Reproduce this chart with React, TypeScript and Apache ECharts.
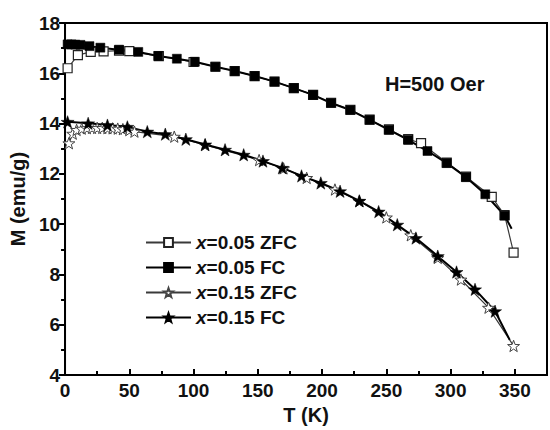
import React, { useEffect, useRef } from "react";
import * as echarts from "echarts";

// Temperature sweeps (K) and magnetization (emu/g)
const ZFC05_T = [2, 10, 20, 30, 42, 50, 73, 100, 117, 132, 147.5, 163, 178, 193, 207, 222, 237, 252, 267, 277, 297, 312, 332, 342, 349];
const ZFC05_M = [16.2, 16.72, 16.85, 16.87, 16.9, 16.88, 16.68, 16.45, 16.26, 16.09, 15.89, 15.67, 15.41, 15.14, 14.83, 14.55, 14.16, 13.77, 13.38, 13.22, 12.45, 11.89, 11.09, 10.36, 8.87];

const FC05_T = [2, 5, 8, 12, 19, 27.5, 42, 57, 72.5, 87, 101, 117, 132, 147.5, 163, 178, 193, 207, 222, 237, 252, 267, 282, 297, 312, 327, 342, 347.5];
const FC05_M = [17.15, 17.15, 17.14, 17.13, 17.08, 17.02, 16.94, 16.85, 16.69, 16.58, 16.46, 16.26, 16.09, 15.89, 15.67, 15.41, 15.14, 14.82, 14.54, 14.15, 13.75, 13.35, 12.91, 12.43, 11.87, 11.19, 10.34, 9.82];

const ZFC15_T = [3, 6, 9, 13, 17, 21, 25, 29, 33, 37, 41, 45, 50, 54, 85, 109, 151, 170, 188, 210, 229, 250, 269, 290, 308, 329.5, 349];
const ZFC15_M = [13.22, 13.6, 13.75, 13.8, 13.82, 13.83, 13.83, 13.83, 13.82, 13.81, 13.8, 13.78, 13.74, 13.68, 13.48, 13.15, 12.55, 12.22, 11.84, 11.38, 10.92, 10.27, 9.56, 8.66, 7.8, 6.68, 5.16];

const FC15_T = [2, 18, 33, 48.5, 64, 78, 94, 109, 124.5, 139, 154, 169, 184, 199, 214, 229, 244, 258.5, 273, 290, 304.6, 319, 334.6, 346];
const FC15_M = [14.07, 14.01, 13.94, 13.87, 13.68, 13.58, 13.38, 13.17, 12.96, 12.76, 12.51, 12.24, 11.92, 11.64, 11.31, 10.93, 10.5, 9.98, 9.45, 8.73, 8.1, 7.41, 6.54, 5.4];

const SERIES_NAMES = ["x=0.05 ZFC", "x=0.05 FC", "x=0.15 ZFC", "x=0.15 FC"];
const FIELD_LABEL = "H=500 Oer";

const FONT = "'Liberation Sans', Arial, Helvetica, sans-serif";
const STAR =
  "path://M0,-10L2.35,-3.24L9.51,-3.09L3.8,1.24L5.88,8.09L0,4L-5.88,8.09L-3.8,1.24L-9.51,-3.09L-2.35,-3.24Z";

// Pairs T and M; points after the last plotted symbol of an FC sweep carry no marker.
function pairs(t: number[], m: number[], lastBare: boolean) {
  return t.map((v, i) =>
    lastBare && i === t.length - 1
      ? { value: [v, m[i]], symbol: "none" }
      : { value: [v, m[i]] }
  );
}

export default function App() {
  const ref = useRef<HTMLDivElement>(null);

  useEffect(() => {
    if (!ref.current) return;
    const chart = echarts.init(ref.current, null, { renderer: "svg" });

    const openLine = { color: "#3a3a3a", width: 1.2 };
    const solidLine = { color: "#000", width: 2 };

    chart.setOption({
      animation: false,
      backgroundColor: "#fff",
      textStyle: { fontFamily: FONT },
      grid: { left: 65, top: 23, width: 487, height: 357, show: true, borderColor: "#000", borderWidth: 2 },
      xAxis: {
        type: "value",
        min: 0,
        max: 375,
        interval: 50,
        name: "T (K)",
        nameLocation: "middle",
        nameGap: 28,
        nameTextStyle: { fontSize: 20, fontWeight: "bold", color: "#111", fontFamily: FONT },
        axisLine: { lineStyle: { color: "#000", width: 2 } },
        axisTick: { inside: true, length: 6, lineStyle: { width: 2, color: "#000" } },
        minorTick: { show: true, splitNumber: 2, length: 4, lineStyle: { width: 2, color: "#000" } },
        axisLabel: {
          fontSize: 19, fontWeight: "bold", color: "#111", margin: 6, fontFamily: FONT,
          formatter: (v: number) => (v > 350 ? "" : String(v)),
        },
        splitLine: { show: false },
      },
      yAxis: {
        type: "value",
        min: 4,
        max: 18,
        interval: 2,
        name: "M (emu/g)",
        nameLocation: "middle",
        nameGap: 37,
        nameTextStyle: { fontSize: 20, fontWeight: "bold", color: "#111", fontFamily: FONT },
        axisLine: { lineStyle: { color: "#000", width: 2 } },
        axisTick: { inside: false, length: 6, lineStyle: { width: 2, color: "#000" } },
        minorTick: { show: true, splitNumber: 2, length: 4, lineStyle: { width: 2, color: "#000" } },
        axisLabel: { fontSize: 19, fontWeight: "bold", color: "#111", margin: 5, fontFamily: FONT },
        splitLine: { show: false },
      },
      legend: {
        data: SERIES_NAMES,
        orient: "vertical",
        left: 140,
        top: 228,
        itemWidth: 45,
        itemHeight: 11,
        itemGap: 6,
        formatter: (name: string) => `{i|${name.slice(0, 1)}}{b|${name.slice(1)}}`,
        textStyle: {
          rich: {
            i: { fontStyle: "italic", fontWeight: "bold", fontSize: 19, lineHeight: 20, color: "#111", fontFamily: FONT },
            b: { fontWeight: "bold", fontSize: 19, lineHeight: 20, color: "#111", fontFamily: FONT },
          },
        },
      },
      graphic: [
        {
          type: "text",
          left: 385,
          top: 74,
          style: { text: FIELD_LABEL, fontSize: 20, fontWeight: "bold", fill: "#111", fontFamily: FONT },
        },
      ],
      series: [
        {
          name: SERIES_NAMES[0],
          type: "line",
          data: pairs(ZFC05_T, ZFC05_M, false),
          symbol: "rect",
          symbolSize: 9,
          itemStyle: { color: "#fff", borderColor: "#222", borderWidth: 1.2 },
          lineStyle: openLine,
        },
        {
          name: SERIES_NAMES[2],
          type: "line",
          data: pairs(ZFC15_T, ZFC15_M, false),
          symbol: STAR,
          symbolSize: 12,
          symbolKeepAspect: true,
          itemStyle: { color: "#fff", borderColor: "#444", borderWidth: 1 },
          lineStyle: openLine,
        },
        {
          name: SERIES_NAMES[1],
          type: "line",
          data: pairs(FC05_T, FC05_M, true),
          symbol: "rect",
          symbolSize: 9,
          itemStyle: { color: "#000", borderColor: "#000", borderWidth: 0.5 },
          lineStyle: solidLine,
        },
        {
          name: SERIES_NAMES[3],
          type: "line",
          data: pairs(FC15_T, FC15_M, true),
          symbol: STAR,
          symbolSize: 13,
          symbolKeepAspect: true,
          itemStyle: { color: "#000", borderColor: "#000", borderWidth: 0.5 },
          lineStyle: solidLine,
        },
      ],
    });

    return () => chart.dispose();
  }, []);

  return <div ref={ref} style={{ width: 550, height: 430, position: "absolute", left: 0, top: 0 }} />;
}
